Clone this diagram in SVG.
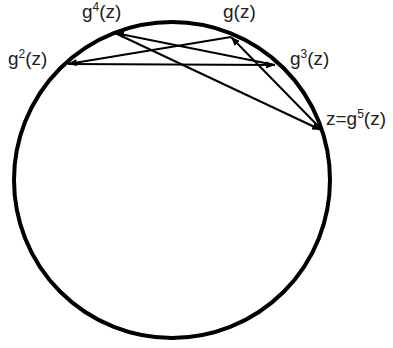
<svg xmlns="http://www.w3.org/2000/svg" width="393" height="348" viewBox="0 0 393 348">
<style>
.lbl{font-family:"Liberation Sans",Arial,sans-serif;font-size:19px;fill:#222}
.sup{font-size:12px}
.edge{stroke:#000;stroke-width:2;fill:none;marker-end:url(#ah)}
</style>
<defs>
<marker id="ah" markerUnits="userSpaceOnUse" markerWidth="10" markerHeight="7" refX="9" refY="3.5" orient="auto">
<path d="M0,0 L9,3.5 L0,7 Z" fill="#000"/>
</marker>
</defs>
<rect width="393" height="348" fill="#fff"/>
<g id="circle"><circle cx="172" cy="180" r="158" fill="none" stroke="#000" stroke-width="4"/></g>
<g id="connectors">
<line class="edge" x1="322" y1="130" x2="231" y2="37"/>
<line class="edge" x1="231" y1="37" x2="68" y2="64"/>
<line class="edge" x1="68" y1="64" x2="275" y2="65"/>
<line class="edge" x1="275" y1="65" x2="115" y2="33"/>
<line class="edge" x1="115" y1="33" x2="321" y2="130"/>
</g>
<g id="node-g4"><text class="lbl" x="82" y="18">g<tspan class="sup" dy="-7">4</tspan><tspan dy="7">(z)</tspan></text></g>
<g id="node-g1"><text class="lbl" x="223" y="18">g(z)</text></g>
<g id="node-g2"><text class="lbl" x="8" y="65">g<tspan class="sup" dy="-7">2</tspan><tspan dy="7">(z)</tspan></text></g>
<g id="node-g3"><text class="lbl" x="290" y="65">g<tspan class="sup" dy="-7">3</tspan><tspan dy="7">(z)</tspan></text></g>
<g id="node-z"><text class="lbl" x="326" y="125">z=g<tspan class="sup" dy="-7">5</tspan><tspan dy="7">(z)</tspan></text></g>
</svg>
